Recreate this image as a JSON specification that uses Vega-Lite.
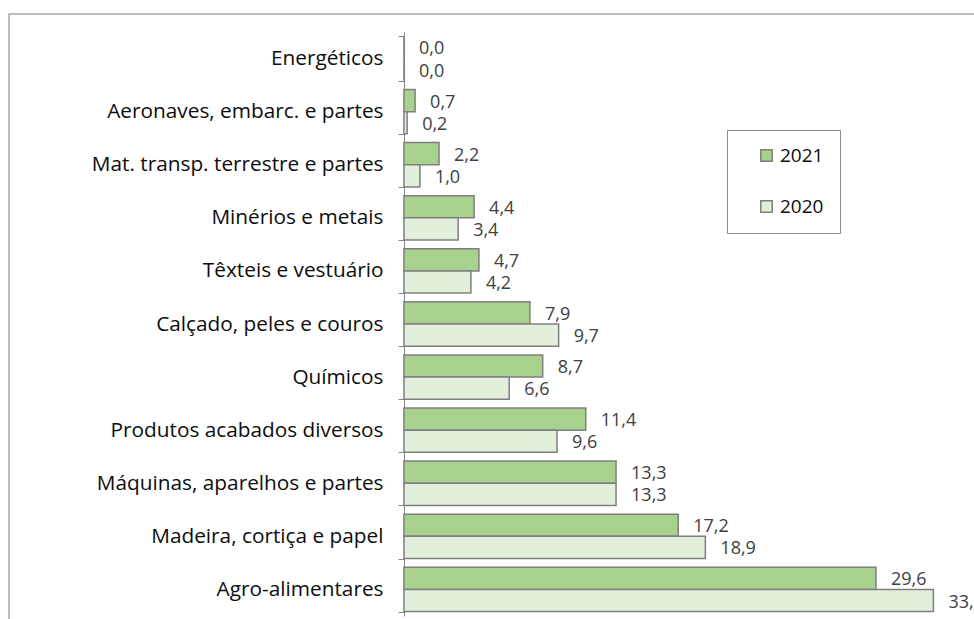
{
  "$schema": "https://vega.github.io/schema/vega-lite/v6.json",
  "width": 985,
  "height": 620,
  "autosize": {"type": "none"},
  "padding": {"left": 9, "top": 14, "right": 0, "bottom": 0},
  "background": "white",
  "config": {
    "locale": {"number": {"decimal": ",", "thousands": ".", "grouping": [3], "currency": ["", " €"]}},
    "view": {"stroke": "#a6a6a6", "strokeWidth": 1.5},
    "font": "Open Sans"
  },
  "data": {
    "values": [
      {"cat": "Energéticos", "year": "2021", "v": 0.0},
      {"cat": "Energéticos", "year": "2020", "v": 0.0},
      {"cat": "Aeronaves, embarc. e partes", "year": "2021", "v": 0.7},
      {"cat": "Aeronaves, embarc. e partes", "year": "2020", "v": 0.2},
      {"cat": "Mat. transp. terrestre e partes", "year": "2021", "v": 2.2},
      {"cat": "Mat. transp. terrestre e partes", "year": "2020", "v": 1.0},
      {"cat": "Minérios e metais", "year": "2021", "v": 4.4},
      {"cat": "Minérios e metais", "year": "2020", "v": 3.4},
      {"cat": "Têxteis e vestuário", "year": "2021", "v": 4.7},
      {"cat": "Têxteis e vestuário", "year": "2020", "v": 4.2},
      {"cat": "Calçado, peles e couros", "year": "2021", "v": 7.9},
      {"cat": "Calçado, peles e couros", "year": "2020", "v": 9.7},
      {"cat": "Químicos", "year": "2021", "v": 8.7},
      {"cat": "Químicos", "year": "2020", "v": 6.6},
      {"cat": "Produtos acabados diversos", "year": "2021", "v": 11.4},
      {"cat": "Produtos acabados diversos", "year": "2020", "v": 9.6},
      {"cat": "Máquinas, aparelhos e partes", "year": "2021", "v": 13.3},
      {"cat": "Máquinas, aparelhos e partes", "year": "2020", "v": 13.3},
      {"cat": "Madeira, cortiça e papel", "year": "2021", "v": 17.2},
      {"cat": "Madeira, cortiça e papel", "year": "2020", "v": 18.9},
      {"cat": "Agro-alimentares", "year": "2021", "v": 29.6},
      {"cat": "Agro-alimentares", "year": "2020", "v": 33.2}
    ]
  },
  "encoding": {
    "y": {
      "field": "cat",
      "type": "nominal",
      "sort": null,
      "scale": {"range": [18, 602], "paddingInner": 0.165, "paddingOuter": 0.0825},
      "axis": {
        "title": null,
        "offset": -395,
        "domainColor": "#868686",
        "domainWidth": 1,
        "tickColor": "#868686",
        "tickSize": 6,
        "tickBand": "extent",
        "labelFont": "Open Sans",
        "labelFontSize": 20.8,
        "labelColor": "#0d0d0d",
        "labelPadding": 15,
        "labelLimit": 400
      }
    },
    "yOffset": {"field": "year", "type": "nominal", "sort": ["2021", "2020"], "scale": {"paddingInner": 0, "paddingOuter": 0}},
    "x": {
      "field": "v",
      "type": "quantitative",
      "scale": {"domain": [-24.765, 37], "nice": false, "zero": false},
      "axis": null
    }
  },
  "layer": [
    {
      "mark": {"type": "bar", "stroke": "#7f7f7f", "strokeWidth": 1.5},
      "encoding": {
        "x2": {"datum": 0},
        "color": {
          "field": "year",
          "type": "nominal",
          "scale": {"domain": ["2021", "2020"], "range": ["#A9D18E", "#E2EFDA"]},
          "legend": {
            "title": null,
            "orient": "none",
            "legendX": 718,
            "legendY": 116,
            "fillColor": "white",
            "strokeColor": "#8c8c8c",
            "padding": 16,
            "symbolOffset": 14,
            "symbolType": "square",
            "symbolSize": 130,
            "symbolStrokeColor": "#7f7f7f",
            "symbolStrokeWidth": 1.5,
            "labelFont": "Open Sans",
            "labelFontSize": 19,
            "labelColor": "#0d0d0d",
            "labelPadding": 7,
            "labelExpr": "datum.label + '\u00a0\u00a0\u00a0\u00a0\u00a0\u00a0'",
            "rowPadding": 31
          }
        }
      }
    },
    {
      "mark": {"type": "text", "align": "left", "baseline": "middle", "dx": 15, "dy": 2, "fontSize": 18, "font": "Open Sans", "color": "#404040"},
      "encoding": {
        "text": {"field": "v", "type": "quantitative", "format": ".1f"}
      }
    }
  ]
}
